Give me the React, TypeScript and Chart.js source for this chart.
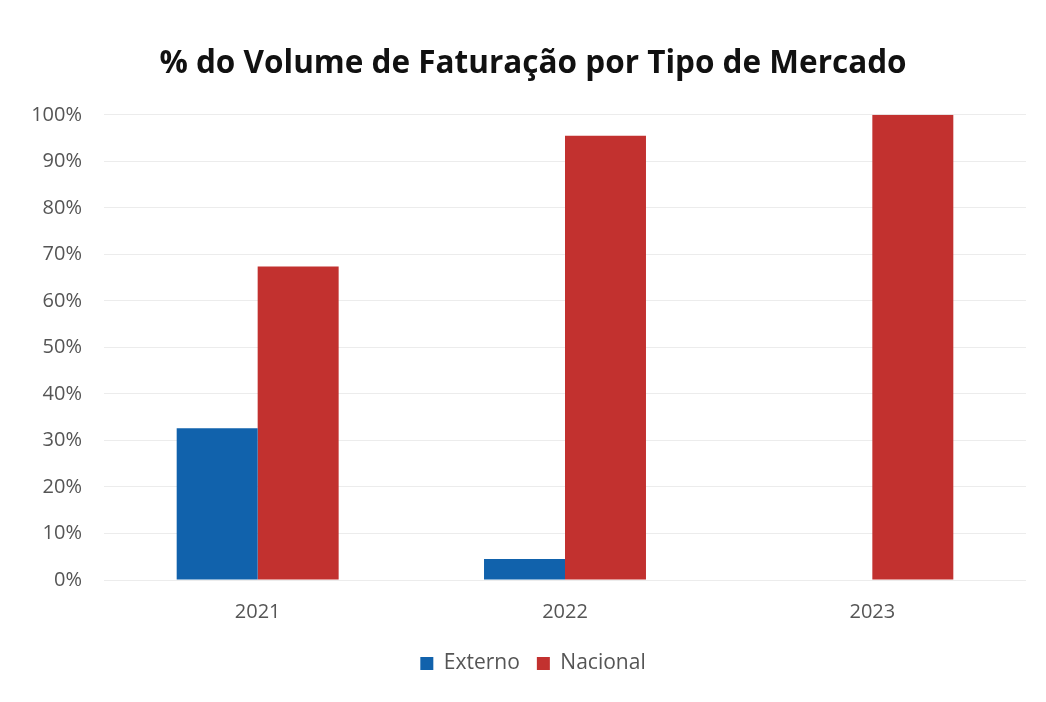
import React, { useEffect, useRef } from "react";
import { Chart, registerables } from "chart.js";

Chart.register(...registerables);

const categories = ["2021", "2022", "2023"];
const externo = [32.6, 4.5, 0];
const nacional = [67.4, 95.5, 100];
const yTicks = [0, 10, 20, 30, 40, 50, 60, 70, 80, 90, 100];

const shiftCenter = {
  id: "shiftCenter",
  afterLayout(chart: any) {
    const d = 15;
    [chart.titleBlock, chart.legend].forEach((b: any) => {
      if (b) {
        b.left += d;
        b.right += d;
      }
    });
  },
};

export default function App() {
  const ref = useRef<HTMLCanvasElement | null>(null);
  useEffect(() => {
    if (!ref.current) return;
    const chart = new Chart(ref.current, {
      type: "bar",
      data: {
        labels: categories,
        datasets: [
          { label: "Externo", data: externo, backgroundColor: "#1162AC", borderWidth: 0, categoryPercentage: 0.527, barPercentage: 1 },
          { label: "Nacional", data: nacional, backgroundColor: "#C2312F", borderWidth: 0, categoryPercentage: 0.527, barPercentage: 1 },
        ],
      },
      options: {
        animation: false,
        responsive: false,
        layout: { padding: { left: 2, right: 12, top: 10, bottom: 10 } },
        plugins: {
          title: {
            display: true,
            text: "% do Volume de Faturação por Tipo de Mercado",
            color: "#111111",
            font: { family: "Open Sans", size: 31.5, weight: "bold" },
            padding: { top: 27, bottom: 32 },
          },
          legend: {
            position: "bottom",
            labels: {
              boxWidth: 13,
              boxHeight: 13,
              color: "#555555",
              font: { family: "Open Sans", size: 21 },
              padding: 17,
            },
          },
          tooltip: { enabled: false },
        },
        scales: {
          x: {
            grid: { display: false },
            border: { display: false },
            ticks: { color: "#555555", font: { family: "Open Sans", size: 20 }, padding: 12 },
          },
          y: {
            min: 0,
            max: 100,
            afterBuildTicks: (axis: any) => {
              axis.ticks = yTicks.map((v) => ({ value: v }));
            },
            afterFit: (axis: any) => {
              axis.width = 94;
            },
            grid: { color: "#ececec", drawTicks: false },
            border: { display: false },
            ticks: {
              color: "#555555",
              font: { family: "Open Sans", size: 20 },
              padding: 22,
              callback: (v: any) => v + "%",
            },
          },
        },
      },
      plugins: [shiftCenter],
    });
    return () => chart.destroy();
  }, []);
  return (
    <div style={{ width: 1030, height: 686, background: "#fff" }}>
      <canvas ref={ref} width={1030} height={686} />
    </div>
  );
}
